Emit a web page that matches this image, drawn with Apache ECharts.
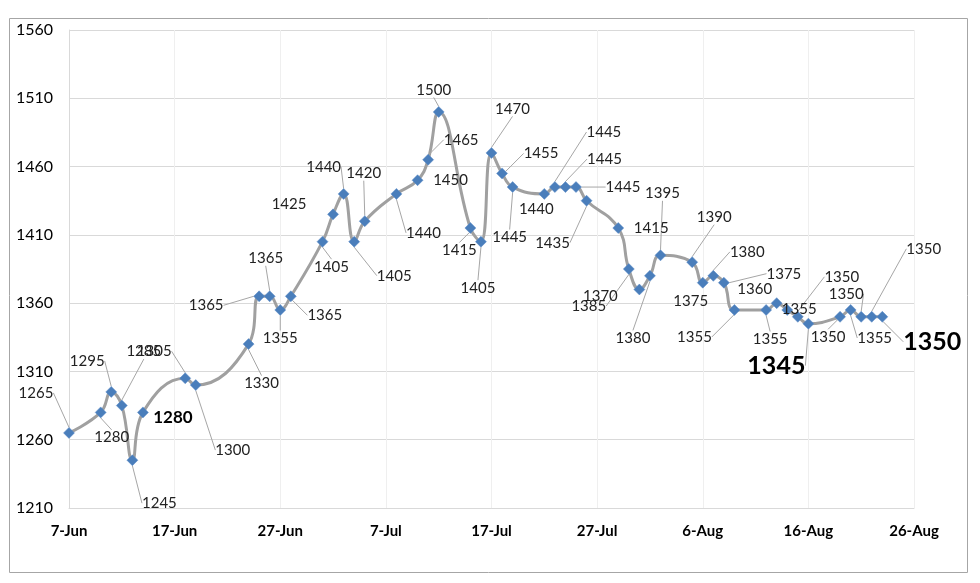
<!DOCTYPE html>
<html>
<head>
<meta charset="utf-8">
<script src="https://cdn.jsdelivr.net/npm/echarts@6/dist/echarts.min.js"></script>
<style>
html,body{margin:0;padding:0;background:#fff;}
#chart{width:980px;height:583px;}
</style>
</head>
<body>
<div id="chart"></div>
<script>
// ---- data ----
const dates = [
  '2023-06-07','2023-06-10','2023-06-11','2023-06-12','2023-06-13','2023-06-14','2023-06-18','2023-06-19',
  '2023-06-24','2023-06-25','2023-06-26','2023-06-27','2023-06-28','2023-07-01','2023-07-02','2023-07-03',
  '2023-07-04','2023-07-05','2023-07-08','2023-07-10','2023-07-11','2023-07-12','2023-07-15','2023-07-16',
  '2023-07-17','2023-07-18','2023-07-19','2023-07-22','2023-07-23','2023-07-24','2023-07-25','2023-07-26',
  '2023-07-29','2023-07-30','2023-07-31','2023-08-01','2023-08-02','2023-08-05','2023-08-06','2023-08-07',
  '2023-08-08','2023-08-09','2023-08-12','2023-08-13','2023-08-14','2023-08-15','2023-08-16','2023-08-19',
  '2023-08-20','2023-08-21','2023-08-22','2023-08-23'
];
const values = [
  1265,1280,1295,1285,1245,1280,1305,1300,
  1330,1365,1365,1355,1365,1405,1425,1440,
  1405,1420,1440,1450,1465,1500,1415,1405,
  1470,1455,1445,1440,1445,1445,1445,1435,
  1415,1385,1370,1380,1395,1390,1375,1380,
  1375,1355,1355,1360,1355,1350,1345,1350,
  1355,1350,1350,1350
];
const startDate = '2023-06-07';
const endDate = '2023-08-26';
const yTicks = [1210,1260,1310,1360,1410,1460,1510,1560];
const monthNames = ['Jan','Feb','Mar','Apr','May','Jun','Jul','Aug','Sep','Oct','Nov','Dec'];

// ---- label styling (pixel offsets of each data label from its marker) ----
const labelOffsets = [
  [-33,-40],[11,25],[-24,-31],[22,-54],[27,43],[30,5],[-31,-27],[37,65],
  [13,39],[-53,9],[-4,-38],[0,28],[34,19],[9,25],[-44,-10],[-20,-27],
  [40,34],[-1,-48],[27,39],[33,0],[33,-20],[-5,-22],[-11,22],[-3,46],
  [21,-44],[39,-20],[-3,50],[-8,15],[49,-55],[39,-28],[47,0],[-34,42],
  [33,0],[-40,37],[-39,7],[-17,62],[2,-62],[22,-45],[-12,18],[34,-24],
  [60,-9],[-40,27],[4,29],[-22,-14],[12,-1],[44,-40],[-32,42],[-12,20],
  [24,28],[-15,-23],[52,-68],[50,25]
];
const boldLabelSizes = {5: 17, 46: 25, 51: 25};

const DAY = 86400000;
function toMs(s){ const p = s.split('-').map(Number); return Date.UTC(p[0], p[1]-1, p[2]); }
const t0 = toMs(startDate);
const dayOffsets = dates.map(d => Math.round((toMs(d) - t0) / DAY));
const maxDay = Math.round((toMs(endDate) - t0) / DAY);

const seriesData = values.map((v, i) => {
  const off = labelOffsets[i];
  const item = { value: [dayOffsets[i], v] };
  const showLine = Math.abs(off[1]) >= 19 || Math.abs(off[0]) >= 45;
  item.labelLine = { show: showLine };
  if (boldLabelSizes[i]) {
    item.label = { fontWeight: 'bold', fontSize: boldLabelSizes[i], color: '#000' };
  }
  return item;
});

const chart = echarts.init(document.getElementById('chart'), null, {renderer: 'canvas'});
const FONT = 'Lato, "Open Sans", sans-serif';

chart.setOption({
  animation: false,
  backgroundColor: '#fff',
  textStyle: { fontFamily: FONT },
  graphic: [{
    type: 'rect',
    shape: { x: 9.5, y: 18.5, width: 958, height: 554 },
    style: { fill: 'none', stroke: '#a6a6a6', lineWidth: 1 },
    silent: true, z: -10
  }],
  grid: { left: 69, right: 66, top: 30, bottom: 75, containLabel: false, outerBoundsMode: 'none' },
  xAxis: {
    type: 'value',
    min: 0, max: maxDay, interval: 10,
    axisLine: { show: true, lineStyle: { color: '#d9d9d9', width: 1 } },
    axisTick: { show: false },
    splitLine: { show: true, lineStyle: { color: '#efefef', width: 1 } },
    axisLabel: {
      margin: 16, fontSize: 15, fontWeight: 'bold', color: '#000', fontFamily: FONT,
      formatter: function (v) {
        const d = new Date(t0 + v * DAY);
        return d.getUTCDate() + '-' + monthNames[d.getUTCMonth()];
      }
    }
  },
  yAxis: {
    type: 'value',
    min: yTicks[0], max: yTicks[yTicks.length - 1], interval: yTicks[1] - yTicks[0],
    axisLine: { show: true, lineStyle: { color: '#d9d9d9', width: 1 } },
    axisTick: { show: false },
    splitLine: { show: true, lineStyle: { color: '#d9d9d9', width: 1 } },
    axisLabel: { margin: 16, fontSize: 16, color: '#000', fontFamily: FONT, formatter: v => String(v) }
  },
  series: [{
    type: 'line',
    data: seriesData,
    smooth: 0.45,
    symbol: 'diamond',
    symbolSize: 11,
    lineStyle: { color: '#a0a0a0', width: 3 },
    itemStyle: { color: '#4a7ebb', borderColor: '#5b8ac6', borderWidth: 0.5 },
    label: {
      show: true,
      position: 'inside',
      fontSize: 15,
      color: '#222',
      fontFamily: FONT,
      formatter: p => String(p.value[1])
    },
    labelLine: { show: true, lineStyle: { color: '#a6a6a6', width: 1 } },
    labelLayout: function (params) {
      const off = labelOffsets[params.dataIndex];
      const r = params.rect;
      return {
        x: r.x + r.width / 2 + off[0],
        y: r.y + r.height / 2 + off[1],
        align: 'center',
        verticalAlign: 'middle'
      };
    }
  }]
});
</script>
</body>
</html>
